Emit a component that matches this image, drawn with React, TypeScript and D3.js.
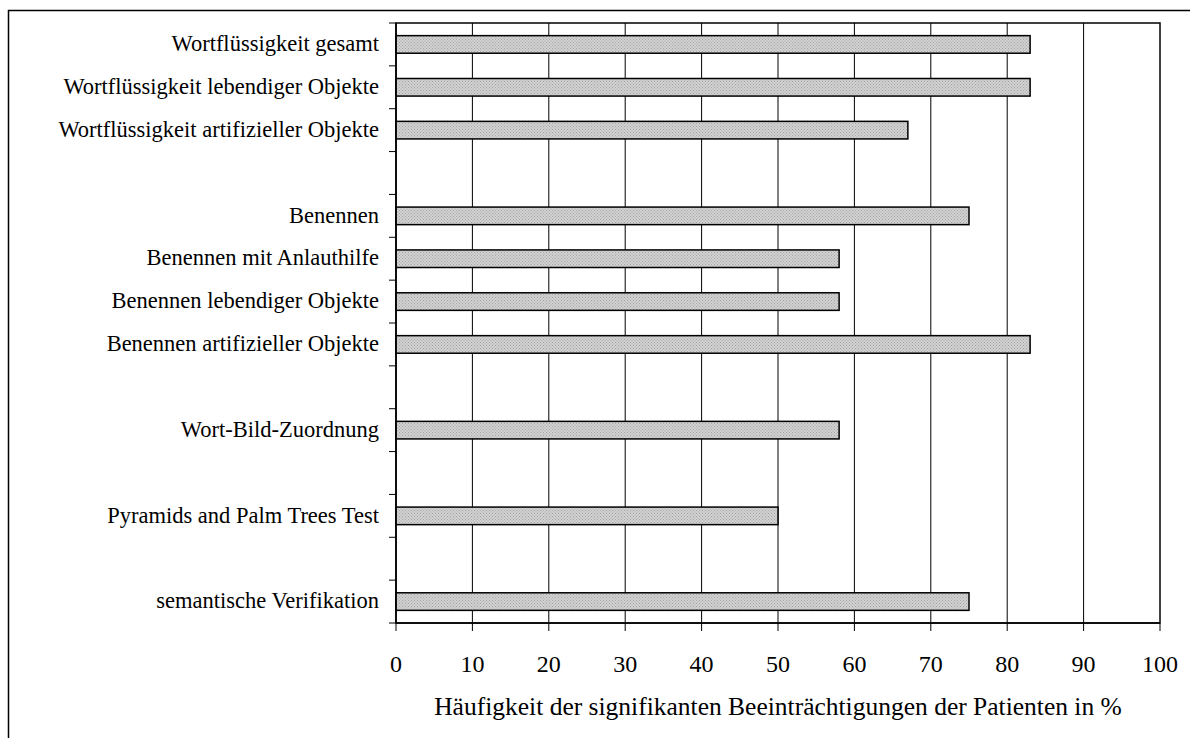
import React from "react";
import * as d3 from "d3";

const categories = [
  "Wortflüssigkeit gesamt",
  "Wortflüssigkeit lebendiger Objekte",
  "Wortflüssigkeit artifizieller Objekte",
  "",
  "Benennen",
  "Benennen mit Anlauthilfe",
  "Benennen lebendiger Objekte",
  "Benennen artifizieller Objekte",
  " ",
  "Wort-Bild-Zuordnung",
  "  ",
  "Pyramids and Palm Trees Test",
  "   ",
  "semantische Verifikation",
];
const values: (number | null)[] = [83, 83, 67, null, 75, 58, 58, 83, null, 58, null, 50, null, 75];
const xTicks = [0, 10, 20, 30, 40, 50, 60, 70, 80, 90, 100];
const xTitle = "Häufigkeit der signifikanten Beeinträchtigungen der Patienten in %";

export default function App() {
  const W = 1190, H = 738;
  const left = 396, right = 1160, top = 23, bottom = 623;
  const x = d3.scaleLinear().domain([0, 100]).range([left, right]);
  const y = d3.scaleBand<string>().domain(categories).range([top, bottom]).paddingInner(0.59).paddingOuter(0.295);
  const yb = d3.scaleBand<string>().domain(categories).range([top, bottom]);
  const font = "'Liberation Serif', 'Times New Roman', serif";
  return (
    <div style={{ position: "absolute", left: 0, top: 0 }}>
      <svg width={W} height={H} style={{ display: "block" }}>
        <defs>
          <pattern id="dots" width="3" height="3" patternUnits="userSpaceOnUse">
            <rect width="3" height="3" fill="#d2d2d2" />
            <rect x="0" y="0" width="1" height="1" fill="#a4a4a4" />
            <rect x="1.5" y="1.5" width="1" height="1" fill="#a4a4a4" />
          </pattern>
        </defs>
        <rect x={0} y={0} width={W} height={H} fill="#fff" />
        <rect x={8.5} y={10.5} width={W + 10} height={H + 10} fill="none" stroke="#000" strokeWidth={1.5} />
        <rect x={left} y={top} width={right - left} height={bottom - top} fill="#fff" stroke="#000" strokeWidth={1.5} />
        {xTicks.slice(1, -1).map((t) => (
          <line key={"g" + t} x1={x(t)} x2={x(t)} y1={top} y2={bottom} stroke="#000" strokeWidth={1} />
        ))}
        {categories.map((c, i) =>
          values[i] == null ? null : (
            <rect
              key={"b" + i}
              x={x(0)}
              y={y(c)!}
              width={x(values[i] as number) - x(0)}
              height={y.bandwidth()}
              fill="url(#dots)"
              stroke="#000"
              strokeWidth={1.5}
            />
          )
        )}
        <line x1={left} x2={left} y1={top} y2={bottom} stroke="#000" strokeWidth={1.5} />
        {categories.map((c, i) => (
          <line key={"yt" + i} x1={left - 7} x2={left} y1={yb(c)!} y2={yb(c)!} stroke="#000" strokeWidth={1} />
        ))}
        <line x1={left - 7} x2={left} y1={bottom} y2={bottom} stroke="#000" strokeWidth={1} />
        {categories.map((c, i) => (
          <text
            key={"yl" + i}
            x={379}
            y={yb(c)! + yb.bandwidth() / 2}
            dy="0.3em"
            textAnchor="end"
            fontFamily={font}
            fontSize={22.5}
            fill="#000"
          >
            {c.trim()}
          </text>
        ))}
        <line x1={left} x2={right} y1={bottom} y2={bottom} stroke="#000" strokeWidth={1.5} />
        {xTicks.map((t) => (
          <g key={"xt" + t}>
            <line x1={x(t)} x2={x(t)} y1={bottom} y2={bottom + 8} stroke="#000" strokeWidth={1} />
            <text x={x(t)} y={671.5} textAnchor="middle" fontFamily={font} fontSize={24} fill="#000">
              {t}
            </text>
          </g>
        ))}
        <text x={778} y={715} textAnchor="middle" fontFamily={font} fontSize={25.5} fill="#000">
          {xTitle}
        </text>
      </svg>
    </div>
  );
}
